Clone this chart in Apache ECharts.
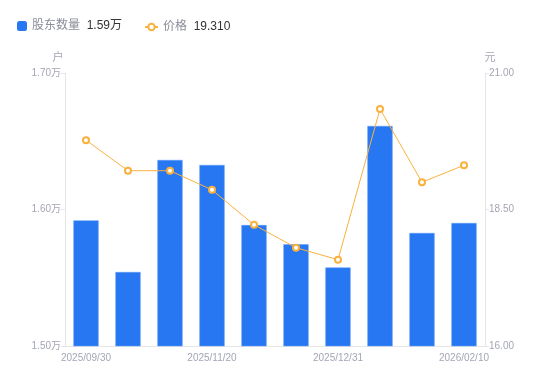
<!DOCTYPE html>
<html><head><meta charset="utf-8">
<script src="https://cdn.jsdelivr.net/npm/echarts@6/dist/echarts.min.js"></script>
<style>html,body{margin:0;padding:0;background:#fff}#c{width:550px;height:381px}</style>
</head><body><div id="c"></div>
<script>
const categories = ['2025/09/30','2025/10/20','2025/10/31','2025/11/20','2025/11/30','2025/12/10','2025/12/31','2026/01/20','2026/01/31','2026/02/10'];
const holders = [1.592, 1.5542, 1.6363, 1.6326, 1.5886, 1.5745, 1.5575, 1.6612, 1.5828, 1.5901];
const prices = [19.77, 19.21, 19.21, 18.86, 18.22, 17.80, 17.58, 20.34, 19.00, 19.31];
const leftTicks = {min:1.5, max:1.7, interval:0.1};
const rightTicks = {min:16, max:21, interval:2.5};
const legendValues = {'股东数量':'1.59万', '价格':'19.310'};

const FONT = '"Liberation Sans","Noto Sans CJK SC",sans-serif';
const legendText = {fontFamily:FONT, rich:{a:{color:'#8a8d99',fontSize:12,fontFamily:FONT},b:{color:'#333',fontSize:12,fontFamily:FONT}}};
const chart = echarts.init(document.getElementById('c'));
chart.setOption({
  animation:false,
  textStyle:{fontFamily:FONT},
  legend:[{
    left:12, top:15, itemWidth:10, itemHeight:10,
    data:[{name:'股东数量', icon:'roundRect', itemStyle:{borderWidth:0}}],
    formatter: n => '{a|' + n + '}  {b|' + legendValues[n] + '}',
    textStyle:legendText
  },{
    left:139, top:16, itemWidth:13, itemHeight:8,
    data:[{name:'价格'}],
    formatter: n => '{a|' + n + '}  {b|' + legendValues[n] + '}',
    textStyle:legendText
  }],
  grid:{left:65, right:65, top:73, bottom:35},
  xAxis:{
    type:'category', data:categories,
    axisLine:{lineStyle:{color:'#e6e6e6'}},
    axisTick:{show:false},
    axisLabel:{interval:2, color:'#a3a6b4', fontSize:10, margin:7}
  },
  yAxis:[{
    type:'value', name:'户', min:leftTicks.min, max:leftTicks.max, interval:leftTicks.interval,
    nameTextStyle:{color:'#a3a6b4', fontSize:11, padding:[0,14,0,0]}, nameGap:10,
    axisLine:{show:true, lineStyle:{color:'#e6e6e6'}},
    axisTick:{show:true, length:4, lineStyle:{color:'#e6e6e6'}},
    splitLine:{show:false},
    axisLabel:{color:'#a3a6b4', fontSize:10, margin:4, formatter:v=>v.toFixed(2)+'万'}
  },{
    type:'value', name:'元', min:rightTicks.min, max:rightTicks.max, interval:rightTicks.interval,
    nameTextStyle:{color:'#a3a6b4', fontSize:11, padding:[0,0,0,10]}, nameGap:10,
    axisLine:{show:true, lineStyle:{color:'#e6e6e6'}},
    axisTick:{show:true, length:4, lineStyle:{color:'#e6e6e6'}},
    splitLine:{show:false},
    axisLabel:{color:'#a3a6b4', fontSize:10, margin:4, formatter:v=>v.toFixed(2)}
  }],
  series:[{
    name:'股东数量', type:'bar', data:holders, barWidth:'60%',
    itemStyle:{color:'#2777f3', borderColor:'#5c9af7', borderWidth:0.5}
  },{
    name:'价格', type:'line', yAxisIndex:1, data:prices,
    symbol:'emptyCircle', symbolSize:6,
    lineStyle:{color:'#f9b13e', width:1},
    itemStyle:{color:'#f9b13e', borderWidth:2}
  }]
});
</script></body></html>
